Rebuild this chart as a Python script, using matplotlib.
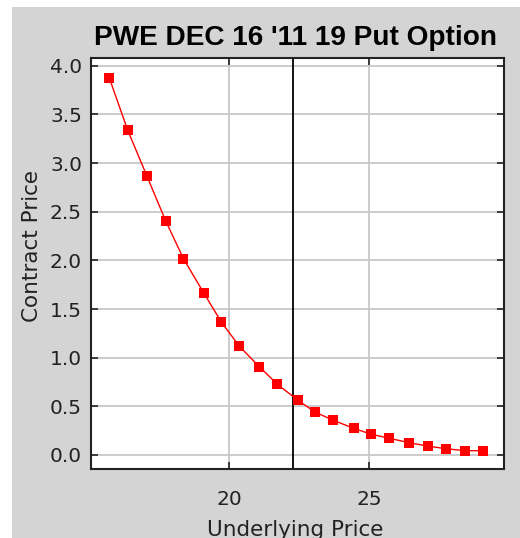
import matplotlib
matplotlib.use("Agg")
import matplotlib.pyplot as plt
from matplotlib.patches import Rectangle

# -------------------------------
# data
# -------------------------------
underlying = [15.71, 16.36, 17.05, 17.72, 18.36, 19.08, 19.72, 20.36, 21.07, 21.72,
              22.44, 23.08, 23.72, 24.45, 25.08, 25.72, 26.44, 27.10, 27.74, 28.44, 29.08]
contract = [3.872, 3.340, 2.867, 2.408, 2.017, 1.668, 1.364, 1.117, 0.908, 0.727,
            0.565, 0.439, 0.357, 0.274, 0.213, 0.172, 0.126, 0.092, 0.065, 0.044, 0.044]
current_price = 22.29
x_ticks = [20, 25]
y_ticks = [0.0, 0.5, 1.0, 1.5, 2.0, 2.5, 3.0, 3.5, 4.0]
title = "PWE DEC 16 '11 19 Put Option"

plt.rcParams["font.family"] = ["DejaVu Sans"]

W, H = 520, 538
fig = plt.figure(figsize=(W / 100, H / 100), dpi=100, facecolor="white")

# gray panel behind the chart
fig.patches.append(Rectangle((12 / W, 0), 1 - 12 / W, 1 - 7 / H, transform=fig.transFigure,
                             facecolor="#d4d4d4", edgecolor="none", zorder=-1))

ax = fig.add_axes([91 / W, 1 - 469 / H, (504 - 91) / W, (469 - 58) / H])
ax.set_zorder(1)
ax.set_facecolor("white")

ax.plot(underlying, contract, color="#ff0000", linewidth=1.0, marker="s",
        markersize=6.5, markeredgewidth=0, zorder=3)
ax.axvline(current_price, color="black", linewidth=1.3, zorder=2)

ax.set_xlim(15.05, 29.83)
ax.set_ylim(-0.144, 4.08)
ax.set_xticks(x_ticks)
ax.set_yticks(y_ticks)
ax.set_yticklabels([f"{v:.1f}" for v in y_ticks])
ax.grid(True, color="#c8c8c8", linewidth=1.3, zorder=1)
ax.set_axisbelow(True)

ax.tick_params(direction="in", length=5, width=1.2, color="#222222",
               top=True, right=True, labelsize=14.5, labelcolor="#222222")
ax.tick_params(axis="x", pad=15)
ax.tick_params(axis="y", pad=6.5)
for s in ax.spines.values():
    s.set_color("#222222")
    s.set_linewidth(1.5)

fig.text(295 / W, 1 - 38 / H, title, ha="center", va="center",
         fontsize=20.2, fontweight="bold", color="black", family="Liberation Sans")
fig.text(295 / W, 1 - 530 / H, "Underlying Price", ha="center", va="center",
         fontsize=15.5, color="#222222")
fig.text(32 / W, 1 - 246 / H, "Contract Price", ha="center", va="center",
         rotation=90, fontsize=15.5, color="#222222")

fig.savefig("out.png", dpi=100, facecolor="white")
